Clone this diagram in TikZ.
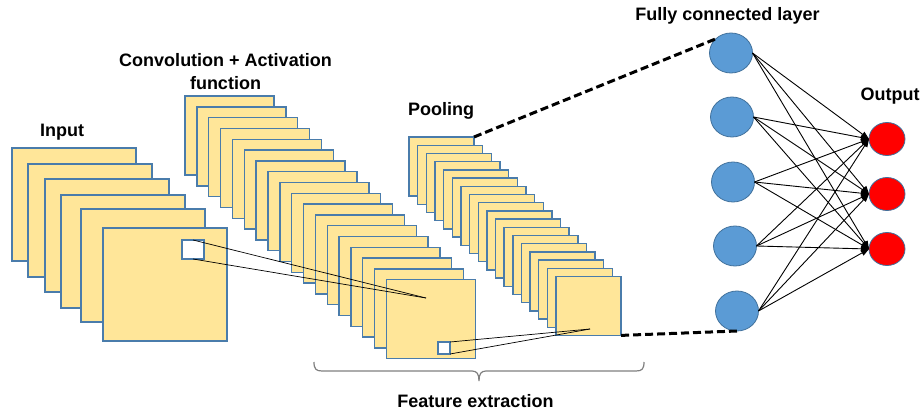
\documentclass[tikz,border=0pt]{standalone}
\usepackage{fontspec}
\setmainfont{Liberation Sans}
\usetikzlibrary{shapes.geometric,arrows.meta}
\definecolor{sheetfill}{HTML}{FFE699}
\definecolor{sheetedge}{HTML}{4A7CAB}
\definecolor{neuron}{HTML}{5B9BD5}
\definecolor{neuronedge}{HTML}{41719C}
\definecolor{outred}{HTML}{FF0000}
\definecolor{bracegray}{HTML}{7F7F7F}

\begin{document}
\begin{tikzpicture}[x=1pt,y=-1pt,
  sheet/.style={draw=sheetedge,fill=sheetfill,line width=1.4pt,anchor=north west,
    inner sep=0pt,outer sep=0pt},
  window/.style={draw=sheetedge,fill=white,line width=1.2pt,anchor=north west,
    inner sep=0pt,outer sep=0pt},
  focusline/.style={black,line width=0.7pt},
  fcdash/.style={black,line width=3pt,dash pattern=on 8pt off 4pt},
  fcnode/.style={ellipse,draw=neuronedge,fill=neuron,line width=0.8pt,
    minimum width=43pt,minimum height=40pt,inner sep=0pt,outer sep=0pt},
  outnode/.style={ellipse,draw=neuronedge,fill=outred,line width=0.8pt,
    minimum width=36pt,minimum height=33pt,inner sep=0pt,outer sep=0pt},
  link/.style={black,line width=0.9pt,-{Triangle[length=8pt,width=6pt]}},
  title/.style={font=\bfseries\fontsize{18}{23}\selectfont,inner sep=0pt},
  bracestyle/.style={bracegray,line width=1.2pt}
]
\useasboundingbox (0,0) rectangle (922,415);

% input feature maps
\foreach \x/\y [count=\i] in {12/148,28/164,45/179,61/195,81/209,103/228}
  \node[sheet,minimum width=124pt,minimum height=113pt] (in\i) at (\x,\y) {};
\node[window,minimum width=22pt,minimum height=19pt] (inwin) at (182,240) {};

% convolution + activation maps
\foreach \i in {0,...,17}
  \node[sheet,minimum width=89pt,minimum height=79pt] (conv\i) at ({185+11.85*\i},{96+10.8*\i}) {};
\node[window,minimum width=12pt,minimum height=12pt] (convwin) at (438,342) {};

% pooled maps
\foreach \i in {0,...,17}
  \node[sheet,minimum width=65pt,minimum height=59pt] (pool\i) at ({409+8.65*\i},{137+8.2*\i}) {};

% receptive field projections
\coordinate (convfocus) at (426,298);
\coordinate (poolfocus) at (590,329);
\draw[focusline] (inwin.north) -- (convfocus);
\draw[focusline] (inwin.south) -- (convfocus);
\draw[focusline] (convwin.north east) -- (poolfocus);
\draw[focusline] (convwin.south east) -- (poolfocus);

% fully connected layer and outputs
\foreach \x/\y [count=\i] in {731/53,732/117,733/182,735/246,737/311}
  \node[fcnode] (fc\i) at (\x,\y) {};
\foreach \y [count=\j] in {139,194,249}
  \node[outnode] (out\j) at (887,\y) {};

\draw[fcdash] (pool0.north east) -- (fc1.north west);
\draw[fcdash] (pool17.south east) -- (fc5.south);

\foreach \i in {1,...,5}
  \foreach \j in {1,2,3}
    \draw[link] (fc\i.east) -- (out\j.west);

% brace under the feature extraction stages
\draw[bracestyle] (314,362) .. controls (314,369) and (316,371) .. (322,371)
  -- (472,371) .. controls (477,371) and (479,374) .. (479,381)
  .. controls (479,374) and (481,371) .. (486,371)
  -- (636,371) .. controls (642,371) and (644,369) .. (644,362);

% labels
\node[title,anchor=base] (lin) at (62,136) {Input};
\node[title,anchor=north,align=center] (lconv) at (225.5,53.5) {Convolution + Activation\\function};
\node[title,anchor=base] (lpool) at (441,115) {Pooling};
\node[title,anchor=base] (lfc) at (727.5,20) {Fully connected layer};
\node[title,anchor=base] (lout) at (890,100) {Output};
\node[title,anchor=base] (lfeat) at (475.5,407) {Feature extraction};
\end{tikzpicture}
\end{document}
